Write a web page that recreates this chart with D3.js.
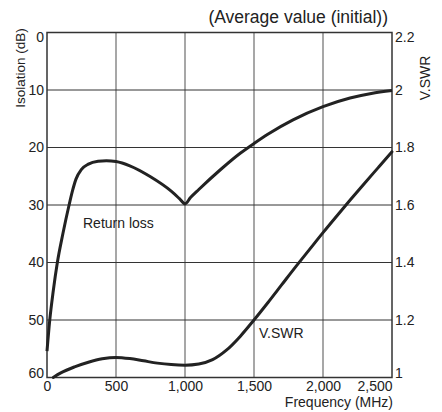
<!DOCTYPE html>
<html><head><meta charset="utf-8">
<script src="https://cdn.jsdelivr.net/npm/d3@7"></script>
<style>body{margin:0;background:#fff}svg{display:block}text{font-family:"Liberation Sans",Arial,sans-serif;fill:#222}</style>
</head><body><svg id="c" width="442" height="412"></svg>
<script>
const freqTicks = [0, 500, 1000, 1500, 2000, 2500];
const isoTicks = [0, 10, 20, 30, 40, 50, 60];
const vswrTicks = [1, 1.2, 1.4, 1.6, 1.8, 2, 2.2];
const returnLossFreq = [0, 20, 45, 75, 115, 160, 185, 210, 250, 300, 370, 430, 500, 600, 750, 900, 960, 1000, 1040, 1100, 1250, 1400, 1500, 1600, 1783, 2000, 2196, 2350, 2500];
const returnLossDb   = [55.4, 50, 45, 40, 35, 30, 27.5, 25.5, 23.8, 22.9, 22.4, 22.3, 22.45, 23.2, 25.1, 27.6, 28.9, 29.8, 28.7, 27.3, 24.0, 21.0, 19.3, 17.7, 15.2, 12.9, 11.4, 10.6, 10.1];
const vswrFreq  = [45, 100, 200, 300, 400, 500, 600, 700, 800, 900, 1000, 1100, 1200, 1300, 1400, 1500, 1600, 1700, 1800, 1900, 2000, 2100, 2200, 2300, 2400, 2500];
const vswrValue = [1.0, 1.016, 1.037, 1.053, 1.065, 1.07, 1.066, 1.058, 1.05, 1.045, 1.043, 1.047, 1.062, 1.095, 1.143, 1.2, 1.26, 1.322, 1.384, 1.444, 1.504, 1.562, 1.619, 1.675, 1.73, 1.785];

const svg = d3.select('#c');
const L = 47, R = 392, T = 32.5, B = 377.5;
const x = d3.scaleLinear().domain([0, 2500]).range([L, R]);
const yL = d3.scaleLinear().domain([0, 60]).range([T, B]);
const yR = d3.scaleLinear().domain([1, 2.2]).range([B, T]);

// grid
svg.append('g').selectAll('line').data(freqTicks.slice(1, -1)).join('line')
  .attr('x1', d => x(d)).attr('x2', d => x(d)).attr('y1', T).attr('y2', B)
  .attr('stroke', '#8a8a8a').attr('stroke-width', 1.5);
svg.append('g').selectAll('line').data(isoTicks.slice(1, -1)).join('line')
  .attr('x1', L).attr('x2', R).attr('y1', d => yL(d)).attr('y2', d => yL(d))
  .attr('stroke', '#333').attr('stroke-width', 1);
svg.append('rect').attr('x', L).attr('y', T).attr('width', R - L).attr('height', B - T)
  .attr('fill', 'none').attr('stroke', '#333').attr('stroke-width', 1.5);

// axes
const fs = 14;
const ax = svg.append('g').attr('transform', `translate(${L},0)`)
  .call(d3.axisLeft(yL).tickValues(isoTicks).tickSize(0).tickPadding(3).tickFormat(d3.format('d')));
ax.selectAll('.tick text').attr('dy', d => d === 0 ? '0.62em' : d === 60 ? '0em' : '0.32em');
const axr = svg.append('g').attr('transform', `translate(${R},0)`)
  .call(d3.axisRight(yR).tickValues(vswrTicks).tickSize(0).tickPadding(3).tickFormat(d => d === 1 || d === 2 ? String(d) : d.toFixed(1)));
axr.selectAll('.tick text').attr('dy', d => d === 2.2 ? '0.62em' : d === 1 ? '0em' : '0.32em');
const axb = svg.append('g').attr('transform', `translate(0,${B})`)
  .call(d3.axisBottom(x).tickValues(freqTicks).tickSize(0).tickPadding(4).tickFormat(d3.format(',')));
axb.selectAll('.tick text').filter(d => d === 2500).attr('text-anchor', 'end');
[ax, axr, axb].forEach(g => {
  g.select('.domain').remove();
  g.selectAll('text').attr('font-size', fs).attr('font-family', '"Liberation Sans",Arial,sans-serif').attr('fill', '#222');
});

// lines
const rl = returnLossFreq.map((f, i) => [f, returnLossDb[i]]);
const vs = vswrFreq.map((f, i) => [f, vswrValue[i]]);
svg.append('path').datum(rl)
  .attr('d', d3.line().x(d => x(d[0])).y(d => yL(d[1])).curve(d3.curveMonotoneX))
  .attr('fill', 'none').attr('stroke', '#222').attr('stroke-width', 3).attr('stroke-linejoin', 'round');
svg.append('path').datum(vs)
  .attr('d', d3.line().x(d => x(d[0])).y(d => yR(d[1])).curve(d3.curveMonotoneX))
  .attr('fill', 'none').attr('stroke', '#222').attr('stroke-width', 3).attr('stroke-linecap', 'round');

// labels
svg.append('text').attr('x', 388).attr('y', 23).attr('text-anchor', 'end').attr('font-size', 17.5).text('(Average value (initial))');
svg.append('text').attr('transform', 'translate(25,68) rotate(-90)').attr('text-anchor', 'middle').attr('font-size', 13.5).text('Isolation (dB)');
svg.append('text').attr('transform', 'translate(430,78) rotate(-90)').attr('text-anchor', 'middle').attr('font-size', fs).text('V.SWR');
svg.append('text').attr('x', 393).attr('y', 407).attr('text-anchor', 'end').attr('font-size', fs).text('Frequency (MHz)');
svg.append('text').attr('x', 83).attr('y', 228).attr('font-size', fs).text('Return loss');
svg.append('text').attr('x', 259).attr('y', 338).attr('font-size', fs).text('V.SWR');
</script></body></html>
